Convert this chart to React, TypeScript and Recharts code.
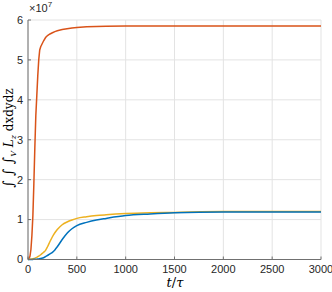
import React from 'react';
import { LineChart, Line, XAxis, YAxis, CartesianGrid } from 'recharts';

const times = [0, 10, 20, 30, 40, 50, 60, 70, 80, 90, 100, 110, 120, 130, 140, 160, 180, 200, 225, 250, 275, 300, 350, 400, 450, 500, 600, 700, 800, 1000, 1250, 1500, 2000, 2500, 3000];
const orangeSeries = [0, 0.02, 0.08, 0.25, 0.6, 1.1, 1.9, 2.8, 3.6, 4.1, 4.6, 5.0, 5.25, 5.33, 5.38, 5.48, 5.56, 5.61, 5.65, 5.68, 5.71, 5.73, 5.76, 5.78, 5.8, 5.81, 5.83, 5.84, 5.845, 5.85, 5.85, 5.85, 5.85, 5.85, 5.85];
const yellowSeries = [0, 0.003, 0.006, 0.01, 0.015, 0.02, 0.027, 0.035, 0.045, 0.055, 0.07, 0.085, 0.1, 0.12, 0.14, 0.18, 0.23, 0.32, 0.45, 0.57, 0.67, 0.75, 0.87, 0.94, 0.99, 1.03, 1.07, 1.1, 1.12, 1.15, 1.17, 1.18, 1.2, 1.2, 1.2];
const blueSeries = [0, 0, 0, 0.001, 0.002, 0.003, 0.004, 0.005, 0.007, 0.009, 0.012, 0.015, 0.02, 0.025, 0.03, 0.045, 0.07, 0.1, 0.14, 0.18, 0.24, 0.32, 0.5, 0.66, 0.77, 0.85, 0.93, 0.99, 1.03, 1.1, 1.14, 1.17, 1.19, 1.19, 1.19];
const xTicks = [0, 500, 1000, 1500, 2000, 2500, 3000];
const yTicks = [0, 1, 2, 3, 4, 5, 6];

const data = times.map((t, i) => ({ t, orange: orangeSeries[i], yellow: yellowSeries[i], blue: blueSeries[i] }));

const AXIS = '#707070';
const TICKTEXT = '#262626';
const GRID = '#e3e3e3';
const SANS = 'Liberation Sans, Arial, sans-serif';
const SERIF = 'DejaVu Serif, Liberation Serif, serif';

const YLabel = () => (
  <g>
    <text x={29} y={12} fontFamily={SANS} fontSize={11} fill={TICKTEXT}>
      ×10
      <tspan dy={-5} fontSize={8}>7</tspan>
    </text>
    <text
      x={13}
      y={138}
      transform="rotate(-90, 13, 138)"
      textAnchor="middle"
      fontFamily={SERIF}
      fontSize={12}
      fill="#000"
    >
      <tspan fontStyle="italic" fontSize={14}>∫ ∫ ∫</tspan>
      <tspan fontStyle="italic" fontSize={8} dy={3}>V</tspan>
      <tspan fontStyle="italic" dy={-3}> L</tspan>
      <tspan fontStyle="italic" fontSize={8} dy={3}>z</tspan>
      <tspan dy={-3}> dxdydz</tspan>
    </text>
  </g>
);

const XLabel = () => (
  <text x={175} y={287} textAnchor="middle" fontFamily={SERIF} fontSize={13} fill="#000">
    <tspan fontStyle="italic">t</tspan>
    <tspan>/</tspan>
    <tspan fontStyle="italic">τ</tspan>
  </text>
);

export default function App() {
  return (
    <div style={{ position: 'absolute', left: 0, top: 0, background: '#fff' }}>
      <LineChart width={332} height={292} data={data} margin={{ top: 20, right: 11, bottom: 0, left: 0 }}>
        <CartesianGrid stroke={GRID} strokeWidth={1} horizontalValues={yTicks} verticalValues={xTicks} />
        <XAxis
          dataKey="t"
          type="number"
          domain={[0, 3000]}
          ticks={xTicks}
          height={32.5}
          stroke={AXIS}
          tickSize={-3}
          tickMargin={9}
          tick={{ fill: TICKTEXT, fontSize: 11, fontFamily: SANS }}
          label={{ content: () => <XLabel /> }}
        />
        <YAxis
          type="number"
          domain={[0, 6]}
          ticks={yTicks}
          width={28}
          stroke={AXIS}
          tickSize={-3}
          tickMargin={8}
          tick={{ fill: TICKTEXT, fontSize: 11, fontFamily: SANS }}
          label={{ content: () => <YLabel /> }}
        />
        <Line dataKey="orange" stroke="#D95319" strokeWidth={1.5} dot={false} isAnimationActive={false} type="linear" />
        <Line dataKey="yellow" stroke="#EDB120" strokeWidth={1.5} dot={false} isAnimationActive={false} type="monotone" />
        <Line dataKey="blue" stroke="#0072BD" strokeWidth={1.5} dot={false} isAnimationActive={false} type="monotone" />
      </LineChart>
    </div>
  );
}
